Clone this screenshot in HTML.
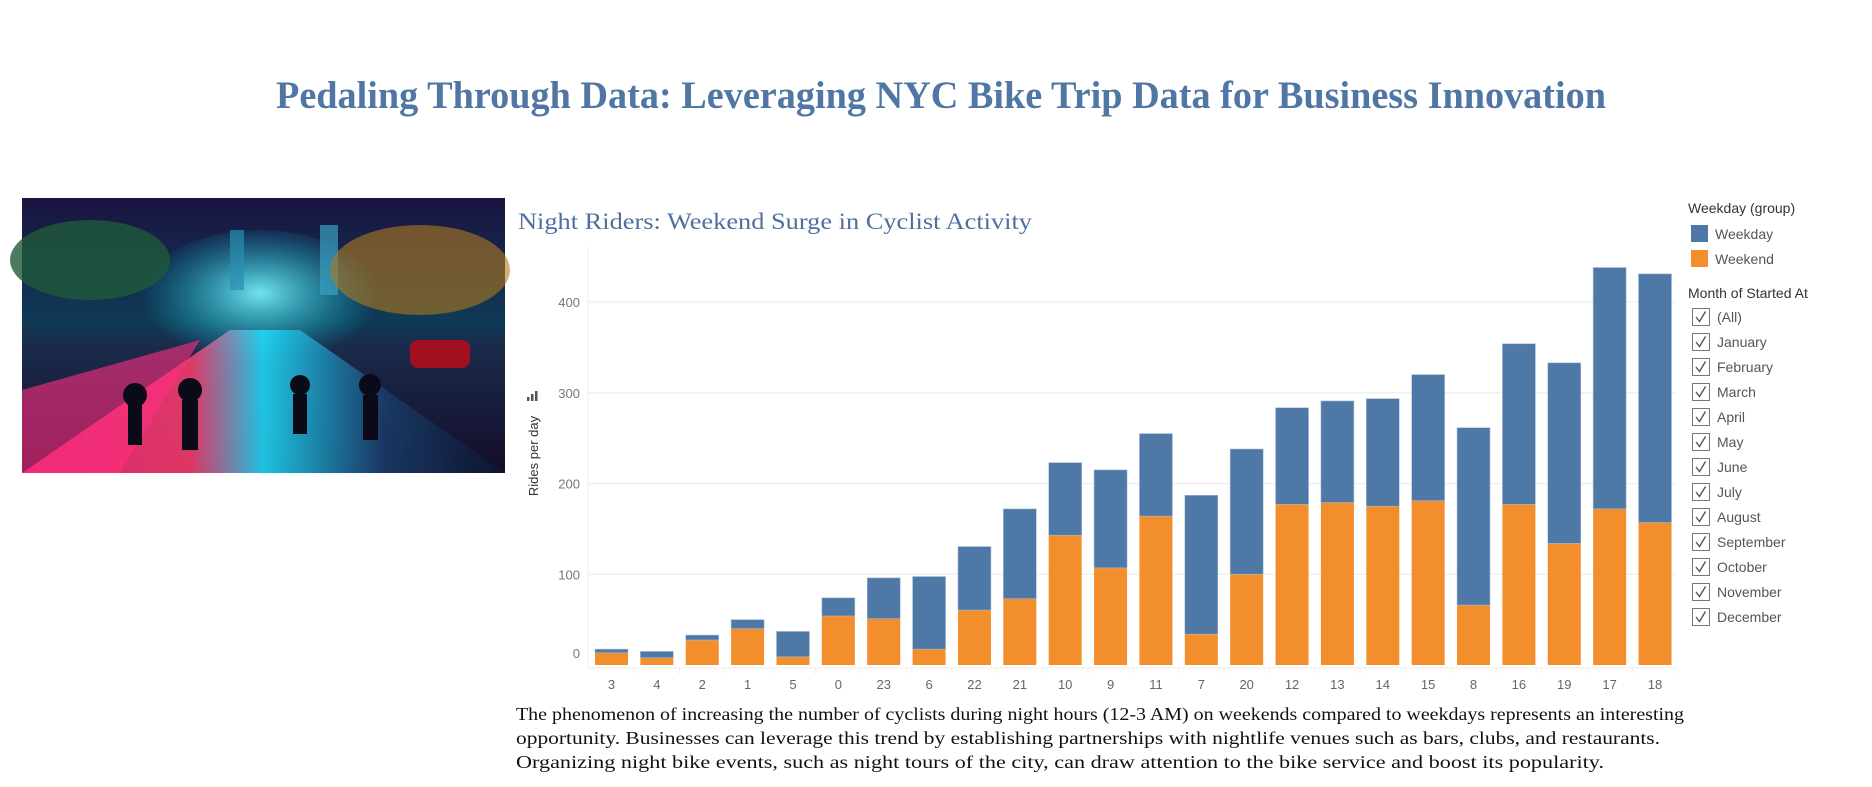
<!DOCTYPE html>
<html><head><meta charset="utf-8">
<style>
html,body{margin:0;padding:0;background:#fff;width:1872px;height:787px;overflow:hidden}
svg{display:block}
</style></head>
<body>
<svg id="root" width="1872" height="787" viewBox="0 0 1872 787" xmlns="http://www.w3.org/2000/svg">
<defs>
<linearGradient id="sky" x1="0" y1="0" x2="0" y2="1">
<stop offset="0" stop-color="#1a1440"/><stop offset="0.45" stop-color="#0f3a55"/><stop offset="0.55" stop-color="#1b2a4a"/><stop offset="1" stop-color="#140c2a"/>
</linearGradient>
<radialGradient id="glow" cx="0.5" cy="0.45" r="0.5">
<stop offset="0" stop-color="#7ff6ff" stop-opacity="0.9"/><stop offset="1" stop-color="#00c8e0" stop-opacity="0"/>
</radialGradient>
<linearGradient id="road" x1="0" y1="0" x2="1" y2="0">
<stop offset="0" stop-color="#ff2a7a"/><stop offset="0.35" stop-color="#ff3d6e"/><stop offset="0.5" stop-color="#20e0ff"/><stop offset="0.75" stop-color="#1a3d6b"/><stop offset="1" stop-color="#0c1530"/>
</linearGradient>
</defs>

<text x="941" y="108" text-anchor="middle" textLength="1330" lengthAdjust="spacingAndGlyphs" font-family="Liberation Serif, serif" font-weight="bold" font-size="39" fill="#4f76a4">Pedaling Through Data: Leveraging NYC Bike Trip Data for Business Innovation</text>

<g>
<rect x="22" y="198" width="483" height="275" fill="url(#sky)"/>
<ellipse cx="260" cy="300" rx="120" ry="70" fill="url(#glow)"/>
<rect x="230" y="230" width="14" height="60" fill="#2a8fb0" opacity="0.7"/>
<rect x="320" y="225" width="18" height="70" fill="#3a9fc0" opacity="0.7"/>
<ellipse cx="90" cy="260" rx="80" ry="40" fill="#1f5a3a" opacity="0.8"/>
<ellipse cx="420" cy="270" rx="90" ry="45" fill="#b07a20" opacity="0.6"/>
<polygon points="22,473 230,330 300,330 505,473" fill="url(#road)" opacity="0.85"/>
<polygon points="22,473 22,390 200,340 120,473" fill="#ff2e80" opacity="0.6"/>
<rect x="410" y="340" width="60" height="28" rx="8" fill="#a01020"/>
<g fill="#0a0a18">
<circle cx="135" cy="395" r="12"/><rect x="128" y="405" width="14" height="40"/>
<circle cx="190" cy="390" r="12"/><rect x="182" y="400" width="16" height="50"/>
<circle cx="300" cy="385" r="10"/><rect x="293" y="394" width="14" height="40"/>
<circle cx="370" cy="385" r="11"/><rect x="363" y="395" width="15" height="45"/>
</g>
</g>

<text x="518" y="229" textLength="514" lengthAdjust="spacingAndGlyphs" font-family="Liberation Serif, serif" font-size="23" fill="#4f6f9f">Night Riders: Weekend Surge in Cyclist Activity</text>

<g id="chart"></g>

<g font-family="Liberation Sans, sans-serif">
<text x="1688" y="213" font-size="14" fill="#333">Weekday (group)</text>
<rect x="1691" y="225" width="17" height="17" fill="#4e79a7"/>
<text x="1715" y="239" font-size="14" fill="#555">Weekday</text>
<rect x="1691" y="250" width="17" height="17" fill="#f28e2b"/>
<text x="1715" y="264" font-size="14" fill="#555">Weekend</text>
</g>
<g id="filter" font-family="Liberation Sans, sans-serif">
<text x="1688" y="298" font-size="14" fill="#333">Month of Started At</text>
</g>

<g font-family="Liberation Serif, serif" font-size="18" fill="#111">
<text x="516" y="720" textLength="1168" lengthAdjust="spacingAndGlyphs">The phenomenon of increasing the number of cyclists during night hours (12-3 AM) on weekends compared to weekdays represents an interesting</text>
<text x="516" y="744" textLength="1144" lengthAdjust="spacingAndGlyphs">opportunity. Businesses can leverage this trend by establishing partnerships with nightlife venues such as bars, clubs, and restaurants.</text>
<text x="516" y="768" textLength="1088" lengthAdjust="spacingAndGlyphs">Organizing night bike events, such as night tours of the city, can draw attention to the bike service and boost its popularity.</text>
</g>
</svg>
<script>
const hours = ["3","4","2","1","5","0","23","6","22","21","10","9","11","7","20","12","13","14","15","8","16","19","17","18"];
const weekend = [13.5,8,27.5,40,9,54,51,17.5,60.5,73,143,107,164,34,100,177,179,175,181,66,177,134,172,157];
const weekday = [4,7,5.5,10,28,20,45,80,70,99,80,108,91,153,138,106.5,112,118.5,139,195.5,177,199,266,274];
const yTicks = [0,100,200,300,400];
const months = ["(All)","January","February","March","April","May","June","July","August","September","October","November","December"];

const NS = "http://www.w3.org/2000/svg";
const chart = document.getElementById('chart');
function mk(tag, attrs, parent){const e=document.createElementNS(NS,tag);for(const k in attrs)e.setAttribute(k,attrs[k]);(parent||chart).appendChild(e);return e;}
const y0 = 665, pxPer = 0.9075;
function yScale(v){return y0 - v*pxPer;}
const firstCenter = 611.5, step = 45.37, barW = 33;
function xScale(i){return firstCenter + i*step;}

yTicks.forEach(t=>{
  if(t>0){
    const g = mk('line',{x1:588,x2:1675,y1:yScale(t),y2:yScale(t),stroke:'#f0f0f0','stroke-width':1.5});
    
    
  }
  const tl = mk('text',{x:580,y:(t===0?yScale(t)-12:yScale(t))+5,'text-anchor':'end','font-family':'Liberation Sans, sans-serif','font-size':13,fill:'#777'});
  tl.textContent = t;
  
  
});
const ax = mk('line',{x1:588,x2:588,y1:247,y2:668,stroke:'#f0f0f0','stroke-width':1});


const bx = mk('line',{x1:588,x2:1675,y1:668,y2:668,stroke:'#eee','stroke-width':1});



const yt = mk('text',{x:0,y:0,transform:'translate(538,456) rotate(-90)','text-anchor':'middle','font-family':'Liberation Sans, sans-serif','font-size':13,fill:'#333'});
yt.textContent='Rides per day';


const ic = mk('g',{});


[[0,4],[4,7],[8,10]].forEach(([dx,h])=>mk('rect',{x:527+dx,y:401-h,width:2.5,height:h,fill:'#555'},ic));

hours.forEach((h,i)=>{
  const cx = xScale(i);
  const we = mk('rect',{x:cx-barW/2,y:yScale(weekend[i]),width:barW,height:yScale(0)-yScale(weekend[i]),fill:'#f28e2b'});
  
  
  const tot = weekend[i]+weekday[i];
  const wd = mk('rect',{x:cx-barW/2,y:yScale(tot),width:barW,height:yScale(weekend[i])-yScale(tot),fill:'#4e79a7',stroke:'#a9bdd6','stroke-width':0.6});
  
  
  const tk = mk('line',{x1:cx+step/2,x2:cx+step/2,y1:668,y2:674,stroke:'#eee'});
  
  
  const lb = mk('text',{x:cx,y:689,'text-anchor':'middle','font-family':'Liberation Sans, sans-serif','font-size':13,fill:'#666'});
  lb.textContent = h;
  
  
});

const filter = document.getElementById('filter');
months.forEach((m,i)=>{
  const y = 308 + i*25;
  const g = mk('g',{},filter);
  
  
  mk('rect',{x:1692.5,y:y+0.5,width:17,height:17,fill:'#fff',stroke:'#777','stroke-width':1},g);
  mk('path',{d:`M${1696} ${y+9} l3.5 4.5 l6 -10`,fill:'none',stroke:'#555','stroke-width':1.4},g);
  const t = mk('text',{x:1717,y:y+14,'font-size':14,fill:'#555'},g);
  t.textContent = m;
});
</script>
</body></html>
